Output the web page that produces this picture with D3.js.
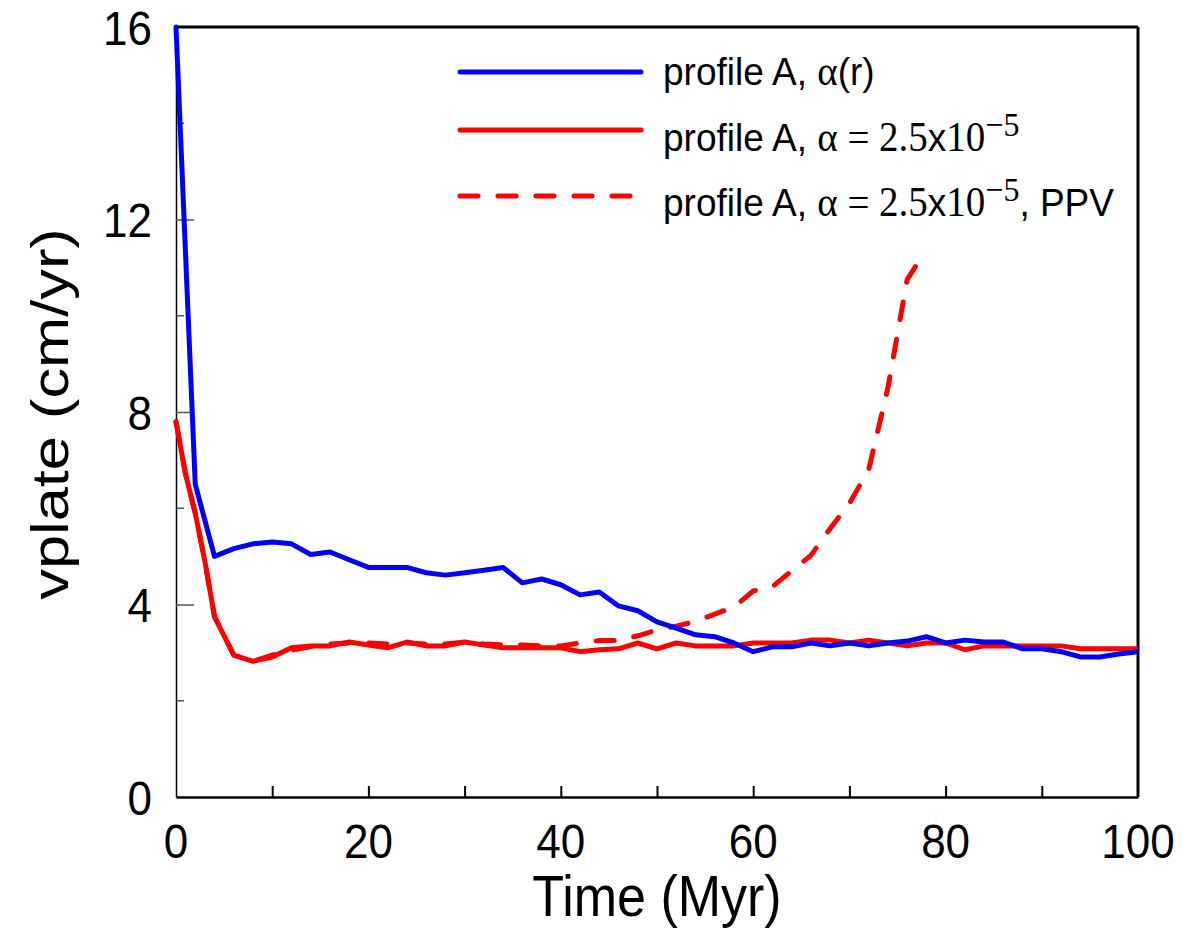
<!DOCTYPE html>
<html lang="en">
<head>
    <meta charset="UTF-8">
    <title>vplate vs time</title>
    <script src="https://d3js.org/d3.v7.min.js"></script>
    <style>
        body {
            margin: 0;
            background: #fff;
        }
        svg text {
            font-family: "Liberation Sans", Arial, sans-serif;
            fill: #000;
        }
        .serif {
            font-family: "Liberation Serif", "Times New Roman", serif;
        }
        .series {
            fill: none;
            stroke-width: 5px;
            stroke-linejoin: round;
            stroke-linecap: round;
        }
    </style>
</head>
<body>
    <div id="chart"></div>
    <script>
        // profile A, alpha(r)
        const blueTime = [0, 2, 4, 6, 8, 10, 12, 14, 16, 18, 20, 22, 24, 26, 28, 30, 32, 34, 36, 38, 40,
            42, 44, 46, 48, 50, 52, 54, 56, 58, 60, 62, 64, 66, 68, 70, 72, 74, 76, 78, 80,
            82, 84, 86, 88, 90, 92, 94, 96, 98, 100];
        const blueVplate = [16, 6.5, 5.0, 5.16, 5.26, 5.3, 5.26, 5.04, 5.09, 4.93, 4.77, 4.77, 4.77, 4.66, 4.61, 4.66, 4.71, 4.77, 4.45, 4.53, 4.41,
            4.2, 4.26, 3.97, 3.87, 3.64, 3.51, 3.37, 3.33, 3.2, 3.02, 3.12, 3.12, 3.2, 3.14, 3.2, 3.14, 3.2, 3.24, 3.33, 3.2,
            3.26, 3.22, 3.22, 3.08, 3.08, 3.02, 2.91, 2.91, 2.97, 3.02];

        // profile A, alpha = 2.5e-5
        const redTime = [0, 1, 2, 3, 4, 6, 8, 10, 12, 14, 16, 18, 20, 22, 24, 26, 28, 30, 32, 34, 36, 38, 40,
            42, 44, 46, 48, 50, 52, 54, 56, 58, 60, 62, 64, 66, 68, 70, 72, 74, 76, 78, 80,
            82, 84, 86, 88, 90, 92, 94, 96, 98, 100];
        const redVplate = [7.8, 6.7, 5.9, 4.9, 3.75, 2.95, 2.82, 2.91, 3.1, 3.14, 3.14, 3.22, 3.16, 3.1, 3.22, 3.14, 3.14, 3.22, 3.16, 3.1, 3.1, 3.1, 3.1,
            3.02, 3.06, 3.08, 3.2, 3.08, 3.2, 3.14, 3.14, 3.14, 3.2, 3.2, 3.2, 3.26, 3.26, 3.2, 3.26, 3.2, 3.14, 3.2, 3.2,
            3.06, 3.14, 3.14, 3.14, 3.14, 3.14, 3.08, 3.08, 3.08, 3.08];

        // profile A, alpha = 2.5e-5, PPV
        const ppvTime = [0, 1, 2, 3, 4, 6, 8, 10, 12, 14, 16, 18, 20, 22, 24, 26, 28, 30, 32, 34, 36, 38, 40,
            42, 44, 46, 48, 50, 52, 54, 56, 58, 60, 62, 64, 66, 68, 70, 72, 74, 76, 77.6];
        const ppvVplate = [7.8, 6.7, 5.9, 4.9, 3.75, 2.95, 2.82, 2.95, 3.05, 3.12, 3.18, 3.2, 3.2, 3.18, 3.2, 3.18, 3.18, 3.22, 3.18, 3.16, 3.16, 3.14, 3.14,
            3.2, 3.25, 3.25, 3.35, 3.47, 3.55, 3.65, 3.8, 3.95, 4.28, 4.37, 4.7, 5.02, 5.58, 6.1, 6.8, 8.5, 10.75, 11.25];

        const xTicks = [0, 20, 40, 60, 80, 100];
        const xMinorTicks = [10, 20, 30, 40, 50, 60, 70, 80, 90];
        const yTicks = [0, 4, 8, 12, 16];
        const yMinorTicks = [2, 6, 10, 14];

        const width = 1185, height = 932;
        const margin = { top: 27, right: 47, bottom: 135, left: 176 };
        const plotW = width - margin.left - margin.right;
        const plotH = height - margin.top - margin.bottom;
        const stretch = 1.1; // the original figure's text is a bit taller than wide

        const svg = d3.select("#chart").append("svg")
            .attr("width", width)
            .attr("height", height);

        const g = svg.append("g")
            .attr("transform", `translate(${margin.left},${margin.top})`);

        const x = d3.scaleLinear().domain([0, 100]).range([0, plotW]);
        const y = d3.scaleLinear().domain([0, 16]).range([plotH, 0]);

        // frame: thick top and right, thinner left and bottom
        g.append("line").attr("x1", 0).attr("x2", plotW).attr("y1", 0).attr("y2", 0)
            .attr("stroke", "#000").attr("stroke-width", 3);
        g.append("line").attr("x1", plotW).attr("x2", plotW).attr("y1", 0).attr("y2", plotH)
            .attr("stroke", "#000").attr("stroke-width", 3);

        // minor ticks on y (inside)
        g.selectAll(".yminor").data(yMinorTicks).enter().append("line")
            .attr("x1", 0).attr("x2", 8)
            .attr("y1", d => y(d)).attr("y2", d => y(d))
            .attr("stroke", "#555").attr("stroke-width", 1.5);

        // y axis, ticks pointing inward
        const yAxis = g.append("g")
            .call(d3.axisLeft(y).tickValues(yTicks).tickSizeInner(-18).tickSizeOuter(0).tickPadding(0));
        yAxis.select(".domain").attr("stroke", "#000").attr("stroke-width", 1.5);
        yAxis.selectAll(".tick line").attr("stroke", "#555").attr("stroke-width", 1.5)
            .filter(d => d === 0 || d === 16).remove();
        yAxis.selectAll(".tick text")
            .attr("x", null)
            .attr("dy", null)
            .attr("transform", `translate(-24,${0.36 * 44 * stretch}) scale(1,${stretch})`)
            .style("font-size", "44px")
            .attr("font-family", null);

        // x axis, ticks pointing inward
        const xAxis = g.append("g")
            .attr("transform", `translate(0,${plotH})`)
            .call(d3.axisBottom(x).tickValues(xMinorTicks).tickSizeInner(-11).tickSizeOuter(0).tickFormat(""));
        xAxis.select(".domain").attr("stroke", "#000").attr("stroke-width", 2.5);
        xAxis.selectAll(".tick line").attr("stroke", "#000").attr("stroke-width", 2);

        g.append("g").selectAll("text").data(xTicks).enter().append("text")
            .attr("transform", d => `translate(${x(d)},${plotH + 61}) scale(1,${stretch})`)
            .attr("text-anchor", "middle")
            .style("font-size", "44px")
            .text(d => d);

        // axis titles
        g.append("text")
            .attr("transform", `translate(${plotW / 2},${plotH + 119}) scale(1,1.1)`)
            .attr("text-anchor", "middle")
            .style("font-size", "52px")
            .text("Time (Myr)");

        g.append("text")
            .attr("transform", `translate(${68 - margin.left},${plotH / 2 + 2}) rotate(-90) scale(1.18,1)`)
            .attr("text-anchor", "middle")
            .style("font-size", "52px")
            .text("vplate (cm/yr)");

        // series
        const line = d3.line()
            .x(d => x(d[0]))
            .y(d => y(d[1]));

        g.append("clipPath").attr("id", "plotclip")
            .append("rect").attr("x", -3).attr("y", -3).attr("width", plotW + 3).attr("height", plotH + 3);

        const seriesG = g.append("g").attr("clip-path", "url(#plotclip)");

        seriesG.append("path")
            .attr("class", "series")
            .attr("stroke", "#ff0000")
            .attr("d", line(d3.zip(redTime, redVplate)));

        seriesG.append("path")
            .attr("class", "series")
            .attr("stroke", "#ff0000")
            .attr("stroke-dasharray", "18,20")
            .attr("d", line(d3.zip(ppvTime, ppvVplate)));

        seriesG.append("path")
            .attr("class", "series")
            .attr("stroke", "#0000ff")
            .attr("d", line(d3.zip(blueTime, blueVplate)));

        // legend
        const legend = svg.append("g").attr("transform", "translate(458,0)");
        const legendRows = [
            { y: 72, base: 85, color: "#0000ff", dash: null },
            { y: 130, base: 151, color: "#ff0000", dash: null },
            { y: 196, base: 216, color: "#ff0000", dash: "18,20" }
        ];
        legend.selectAll("line").data(legendRows).enter().append("line")
            .attr("x1", 2).attr("x2", 183)
            .attr("y1", d => d.y).attr("y2", d => d.y)
            .attr("stroke", d => d.color)
            .attr("stroke-width", 5)
            .attr("stroke-linecap", "round")
            .attr("stroke-dasharray", d => d.dash);

        function addLabel(row, withPPV, isAlphaR) {
            const t = legend.append("text")
                .attr("transform", `translate(205,${row.base}) scale(1,1.06)`)
                .style("font-size", "37px");
            t.append("tspan").text("profile A, ");
            t.append("tspan").attr("class", "serif").style("font-size", "39px").text("\u03b1");
            if (isAlphaR) {
                t.append("tspan").text("(r)");
                return;
            }
            t.append("tspan").attr("class", "serif").style("font-size", "39px").text(" = 2.5");
            t.append("tspan").text("x");
            t.append("tspan").attr("class", "serif").style("font-size", "39px").text("10");
            t.append("tspan").attr("class", "serif").attr("dy", -14).style("font-size", "32px").text("\u22125");
            if (withPPV) {
                t.append("tspan").attr("dy", 14).text(", PPV");
            }
        }
        addLabel(legendRows[0], false, true);
        addLabel(legendRows[1], false, false);
        addLabel(legendRows[2], true, false);
    </script>
</body>
</html>
